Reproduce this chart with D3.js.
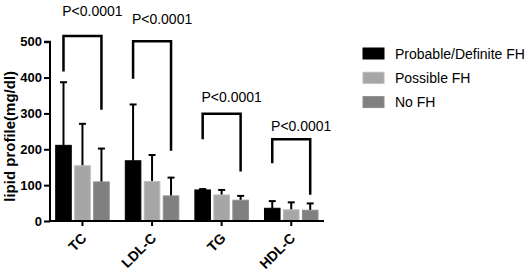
<!DOCTYPE html>
<html>
<head>
<meta charset="utf-8">
<script src="https://cdn.jsdelivr.net/npm/d3@7"></script>
<style>
  body { margin: 0; background: #fff; }
  text { font-family: "Liberation Sans", Arial, sans-serif; }
</style>
</head>
<body>
<svg id="chart" width="532" height="271"></svg>
<script>
// categories and series
const categories = ["TC", "LDL-C", "TG", "HDL-C"];
const groups = ["Probable/Definite FH", "Possible FH", "No FH"];
const colors = ["#000000", "#a6a6a6", "#808080"];

// mean values per category (one array per group)
const probableMean = [211, 168, 86.6, 35.5];
const possibleMean = [154, 110, 72.6, 31];
const noFhMean = [109, 70, 58, 30];

// standard deviations (upper error bars)
const probableSD = [176, 157, 2.5, 20];
const possibleSD = [117, 74, 14, 21];
const noFhSD = [93, 51, 12, 19];

// significance brackets, in mg/dl units
const pLabels = ["P<0.0001", "P<0.0001", "P<0.0001", "P<0.0001"];
const bracketTop = [516, 501, 299, 228];
const bracketLeftEnd = [417, 397, 228, 161];
const bracketRightEnd = [310, 196, 138, 73];
const labelLevel = [572, 549, 332, 252];

const yTicks = [0, 100, 200, 300, 400, 500];

const means = [probableMean, possibleMean, noFhMean];
const sds = [probableSD, possibleSD, noFhSD];

const svg = d3.select("#chart");

const margin = { top: 41.7, left: 50, bottom: 50, right: 208 };
const x0 = d3.scaleBand()
  .domain(categories)
  .range([margin.left, 323.7])
  .paddingInner(0.231)
  .paddingOuter(0.082);

const x1 = d3.scaleBand()
  .domain(groups)
  .range([0, x0.bandwidth()])
  .paddingInner(0.18);

const y = d3.scaleLinear().domain([0, 500]).range([221, margin.top]);

// bars + error bars
const rows = [];
categories.forEach((c, i) => {
  groups.forEach((g, j) => {
    rows.push({ cat: c, group: g, j: j, mean: means[j][i], sd: sds[j][i] });
  });
});

const barG = svg.append("g");

barG.selectAll(".err")
  .data(rows)
  .enter().append("line")
  .attr("x1", d => x0(d.cat) + x1(d.group) + x1.bandwidth() / 2)
  .attr("x2", d => x0(d.cat) + x1(d.group) + x1.bandwidth() / 2)
  .attr("y1", d => y(d.mean))
  .attr("y2", d => y(d.mean + d.sd))
  .attr("stroke", "#000")
  .attr("stroke-width", 2);

barG.selectAll(".cap")
  .data(rows)
  .enter().append("line")
  .attr("x1", d => x0(d.cat) + x1(d.group) + x1.bandwidth() / 2 - 3.5)
  .attr("x2", d => x0(d.cat) + x1(d.group) + x1.bandwidth() / 2 + 3.5)
  .attr("y1", d => y(d.mean + d.sd))
  .attr("y2", d => y(d.mean + d.sd))
  .attr("stroke", "#000")
  .attr("stroke-width", 2);

barG.selectAll(".bar")
  .data(rows)
  .enter().append("rect")
  .attr("x", d => x0(d.cat) + x1(d.group))
  .attr("y", d => y(d.mean))
  .attr("width", x1.bandwidth())
  .attr("height", d => y(0) - y(d.mean))
  .attr("fill", d => colors[d.j])
  .attr("stroke", d => d.j === 0 ? "#000" : d3.color(colors[d.j]).brighter(0.3))
  .attr("stroke-width", 1);

// y axis
const yAxis = svg.append("g")
  .attr("transform", `translate(${margin.left},0)`)
  .call(d3.axisLeft(y).tickValues(yTicks).tickSize(6).tickPadding(2));
yAxis.select(".domain").attr("stroke-width", 2).attr("d", `M-6,${y(500)}H0V${y(0)}`);
yAxis.selectAll(".tick line").attr("stroke-width", 2);
yAxis.selectAll(".tick text")
  .attr("font-size", 13)
  .attr("font-weight", "bold")
  .attr("fill", "#000")
  .style("font-family", "Liberation Sans, Arial, sans-serif");

// x axis
const xAxis = svg.append("g")
  .attr("transform", `translate(0,${y(0)})`)
  .call(d3.axisBottom(x0).tickSize(5).tickSizeOuter(0));
xAxis.select(".domain").attr("stroke-width", 2).attr("d", `M${margin.left - 1},0H324`);
xAxis.selectAll(".tick line").attr("stroke-width", 2);
xAxis.selectAll(".tick text")
  .attr("font-size", 14)
  .attr("font-weight", "bold")
  .attr("fill", "#000")
  .style("font-family", "Liberation Sans, Arial, sans-serif")
  .attr("text-anchor", "end")
  .attr("y", 0)
  .attr("dy", 0)
  .attr("transform", "translate(5,18) rotate(-45)");

// y axis title
svg.append("text")
  .attr("transform", `translate(15,${(y(0) + y(500)) / 2 + 5}) rotate(-90)`)
  .attr("text-anchor", "middle")
  .attr("font-size", 15)
  .attr("font-weight", "bold")
  .text("lipid profile(mg/dl)");

// significance brackets
const bracketG = svg.append("g");
categories.forEach((c, i) => {
  const xl = x0(c) + x1(groups[0]) + x1.bandwidth() / 2;
  const xr = x0(c) + x1(groups[2]) + x1.bandwidth() / 2;
  bracketG.append("path")
    .attr("d", `M${xl},${y(bracketLeftEnd[i])}V${y(bracketTop[i])}H${xr}V${y(bracketRightEnd[i])}`)
    .attr("fill", "none")
    .attr("stroke", "#000")
    .attr("stroke-width", 2.5);
  bracketG.append("text")
    .attr("x", x0(c) + x0.bandwidth() / 2 + 10)
    .attr("y", y(labelLevel[i]))
    .attr("text-anchor", "middle")
    .attr("font-size", 14)
    .text(pLabels[i]);
});

// legend
const legend = svg.append("g").attr("transform", "translate(363,48)");
const lg = legend.selectAll(".legend")
  .data(groups)
  .enter().append("g")
  .attr("transform", (d, i) => `translate(0,${i * 24.3})`);
lg.append("rect")
  .attr("width", 21)
  .attr("height", 11)
  .attr("fill", (d, i) => colors[i])
  .attr("stroke", (d, i) => i === 0 ? "#000" : d3.color(colors[i]).brighter(0.3));
lg.append("text")
  .attr("x", 32)
  .attr("y", 10.5)
  .attr("font-size", 14)
  .text(d => d);
</script>
</body>
</html>
